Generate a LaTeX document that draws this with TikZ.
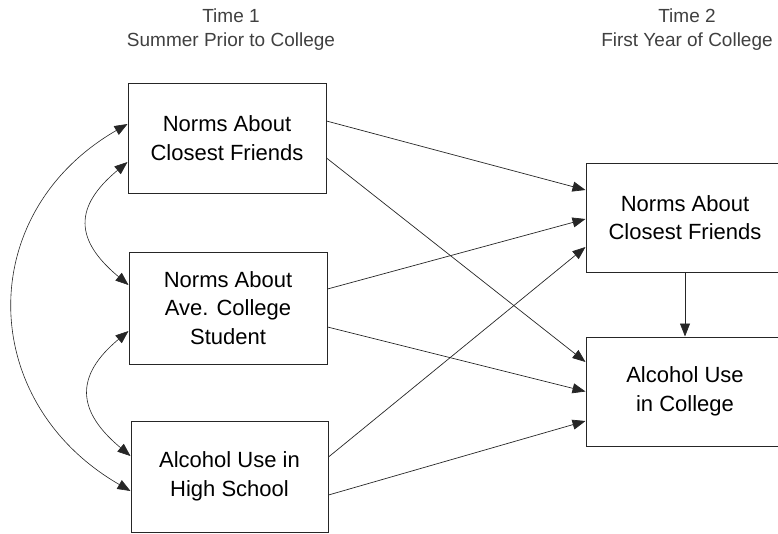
\documentclass[tikz,border=0pt]{standalone}
\usepackage{fontspec}
\setmainfont{Liberation Sans}
\usetikzlibrary{arrows.meta}

\begin{document}
\begin{tikzpicture}[
                    x=1pt, y=-1pt, % pixel units, y going down
                    every node/.style={font=\fontsize{22}{28.5}\selectfont},
                    varbox/.style={draw=black!85, line width=1pt, align=center,
                                   minimum width=198pt, minimum height=110pt, inner sep=0pt},
                    heading/.style={align=center, text=black!75, font=\fontsize{19}{24}\selectfont},
                    path/.style={draw=black!85, line width=0.7pt, -{Triangle[length=13pt,width=10pt]}},
                    covar/.style={draw=black!85, line width=0.6pt,
                                  {Triangle[length=13pt,width=10pt]}-{Triangle[length=13pt,width=10pt]}}
                ]
                \useasboundingbox (0,0) rectangle (778,533);

                % time headings
                \node[heading] (timeone) at (231,30) {Time 1\\Summer Prior to College};
                \node[heading] (timetwo) at (687,30) {Time 2\\First Year of College};

                % time 1 measures
                \node[varbox] (friendsone) at (227,138) {Norms About\\Closest Friends};
                \node[varbox, minimum height=112pt] (students) at (228,308) {Norms About\\Ave. College\\Student};
                \node[varbox, minimum height=111pt, minimum width=197pt] (hsuse) at (229.5,476.5) {Alcohol Use in\\High School};

                % time 2 measures
                \node[varbox, minimum height=109pt] (friendstwo) at (685,217.5) {Norms About\\Closest Friends};
                \node[varbox, minimum height=109pt] (coluse) at (685,391.5) {Alcohol Use\\in College};

                % paths
                \draw[path] ([yshift=17pt]friendsone.east) -- ([yshift=27.5pt]friendstwo.west);
                \draw[path] ([yshift=-20pt]friendsone.east) -- ([yshift=29.5pt]coluse.west);
                \draw[path] ([yshift=19pt]students.east) -- ([yshift=-1.5pt]friendstwo.west);
                \draw[path] ([yshift=-19pt]students.east) -- (coluse.west);
                \draw[path] ([yshift=19.5pt]hsuse.east) -- ([yshift=-29.5pt]friendstwo.west);
                \draw[path] ([yshift=-18.5pt]hsuse.east) -- ([yshift=-29.5pt]coluse.west);
                \draw[path] (friendstwo.south) -- (coluse.north);

                % correlations
                \draw[covar] ([yshift=-24pt]friendsone.west) .. controls +(-54,45) and +(-54,-45) .. ([yshift=23pt]students.west);
                \draw[covar] ([yshift=-23pt]students.west) .. controls +(-54,45) and +(-54,-45) .. ([yshift=20.5pt]hsuse.west);
                \draw[covar] ([yshift=14pt]friendsone.west) .. controls +(-154,89) and +(-154,-89) .. ([yshift=-14.5pt]hsuse.west);
            \end{tikzpicture}
\end{document}
